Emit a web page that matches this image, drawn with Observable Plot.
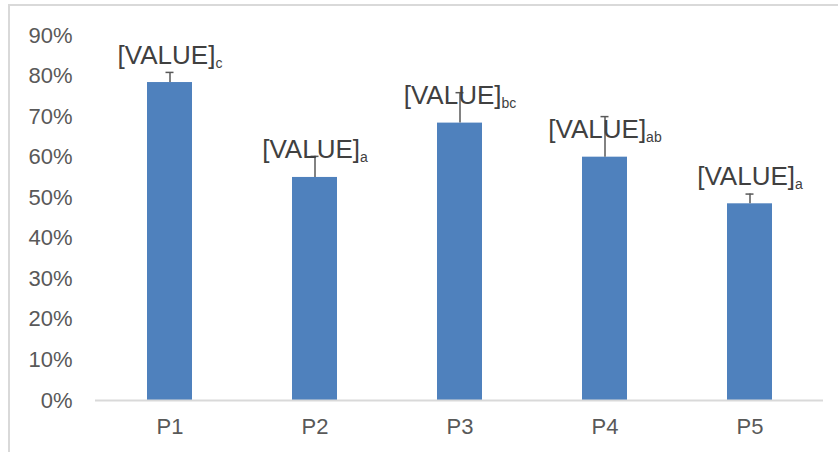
<!DOCTYPE html>
<html>
<head>
<meta charset="utf-8">
<script src="https://cdn.jsdelivr.net/npm/d3@7"></script>
<script src="https://cdn.jsdelivr.net/npm/@observablehq/plot@0.6"></script>
<style>
  html, body { margin: 0; padding: 0; background: #fff; overflow: hidden; }
  #frame { position: absolute; left: 8px; top: 4px; width: 900px; height: 500px; border: 2px solid #d9d9d9; box-sizing: border-box; }
  #chart { position: absolute; left: 0; top: 0; }
  #chart svg { font-family: "Liberation Sans", Arial, sans-serif; }
</style>
</head>
<body>
<div id="frame"></div>
<div id="chart"></div>
<script>
const categories = ["P1", "P2", "P3", "P4", "P5"];
const values = [0.784, 0.550, 0.684, 0.600, 0.485];
const errors = [0.025, 0.052, 0.075, 0.100, 0.024];
const letters = ["c", "a", "bc", "ab", "a"];
const yTicks = [0, 0.1, 0.2, 0.3, 0.4, 0.5, 0.6, 0.7, 0.8, 0.9];

const data = categories.map((c, i) => ({cat: c, value: values[i], upper: values[i] + errors[i], letter: letters[i]}));

const chart = Plot.plot({
  width: 838,
  height: 452,
  marginTop: 35,
  marginBottom: 52,
  marginLeft: 95,
  marginRight: 15,
  style: {fontFamily: "'Liberation Sans', Arial, sans-serif", fontSize: "22px", color: "#595959", background: "transparent", overflow: "visible"},
  x: {domain: categories, paddingInner: 0.69, paddingOuter: 0.345, label: null, tickSize: 0, tickPadding: 18},
  y: {domain: [0, 0.9], ticks: yTicks, tickFormat: d3.format(".0%"), label: null, tickSize: 0, tickPadding: 23},
  marks: [
    Plot.barY(data, {x: "cat", y: "value", fill: "#4f81bd"}),
    Plot.ruleY([0], {stroke: "#d9d9d9", strokeWidth: 2}),
    Plot.ruleX(data, {x: "cat", y1: "value", y2: "upper", stroke: "#595959", strokeWidth: 1.5}),
    Plot.tickY(data, {x: "cat", y: "upper", stroke: "#595959", strokeWidth: 1.5, insetLeft: 18.5, insetRight: 18.5}),
    Plot.text(data, {x: "cat", y: "value", text: () => "[VALUE]", lineAnchor: "bottom", textAnchor: "middle", dy: -19, fontSize: 26, fill: "#404040", className: "vlabel"})
  ]
});
document.getElementById("chart").appendChild(chart);

d3.select(chart).selectAll(".vlabel text").each(function(_, i) {
  d3.select(this).append("tspan").attr("dy", 4).attr("font-size", 14).text(letters[i]);
});
</script>
</body>
</html>
